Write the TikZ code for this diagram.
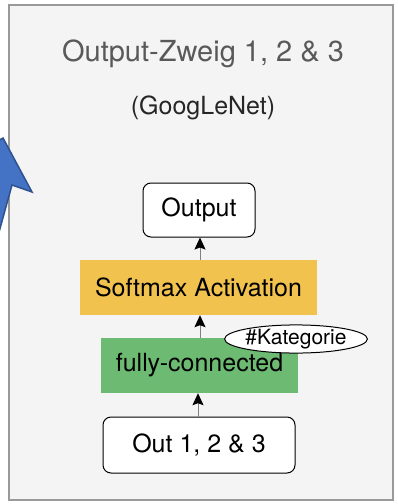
\documentclass[tikz,border=0pt]{standalone}
\usepackage{fontspec}
\setmainfont{TeX Gyre Heros}
\usetikzlibrary{arrows.meta,shapes.geometric}

\definecolor{panelgray}{HTML}{F4F4F4}
\definecolor{panelline}{HTML}{999999}
\definecolor{softmaxfill}{HTML}{F2C24F}
\definecolor{fcfill}{HTML}{6DBA72}
\definecolor{arrowblue}{HTML}{4472C4}
\definecolor{arrowline}{HTML}{2F528F}

\tikzset{
	layerbox/.style = {minimum height = 55pt, inner sep = 0pt, font = \fontsize{25}{28}\selectfont},
	roundbox/.style = {layerbox, draw = black, fill = white, rounded corners = 8pt, line width = 1pt},
	flow/.style = {draw = gray, line width = 1pt, -{Stealth[length = 12pt, width = 11pt, inset = 2pt, black]}}
}

\begin{document}
\begin{tikzpicture}[x = 1pt, y = -1pt]

	\useasboundingbox (0,0) rectangle (398,504);
	\clip (0,0) rectangle (398,504);

	\draw [fill = panelgray, draw = panelline, line width = 1.8pt] (9,5) rectangle (393,500);

	\draw [fill = arrowblue, draw = arrowline, line width = 1.5pt]
			(3,138) --
			(32,192) --
			(12,185) --
			(-28,330) --
			(-69,319) --
			(-29,174) --
			(-50,169) -- cycle;

	\node [text = black!65, font = \fontsize{29}{32}\selectfont] (title) at (203,54) {Output-Zweig 1, 2 \& 3};
	\node [text = black!85, font = \fontsize{25}{28}\selectfont] (net) at (203,108) {(GoogLeNet)};

	\node [roundbox, minimum width = 112pt, minimum height = 54pt] (output) at (199,210) {Output};
	\node [layerbox, fill = softmaxfill, minimum width = 237pt] (softmax) at (198.5,287.5) {Softmax Activation};
	\node [layerbox, fill = fcfill, minimum width = 197pt] (fc) at (199.5,365.5) {fully-connected};
	\node [roundbox, minimum width = 192pt, minimum height = 56pt] (out) at (199,445) {Out 1, 2 \& 3};

	\node [ellipse, draw = black, fill = white, line width = 1pt, inner sep = 0pt,
		minimum width = 132pt, minimum height = 28pt, font = \fontsize{21}{24}\selectfont] (kat) at (296,339) {\#Kategorie};

	\draw [flow] (out.north -| 198,0) -- (fc.south -| 198,0);
	\draw [flow] (fc.north -| 200,0) -- (softmax.south -| 200,0);
	\draw [flow] (softmax.north -| 200,0) -- (output.south -| 200,0);

\end{tikzpicture}
\end{document}
